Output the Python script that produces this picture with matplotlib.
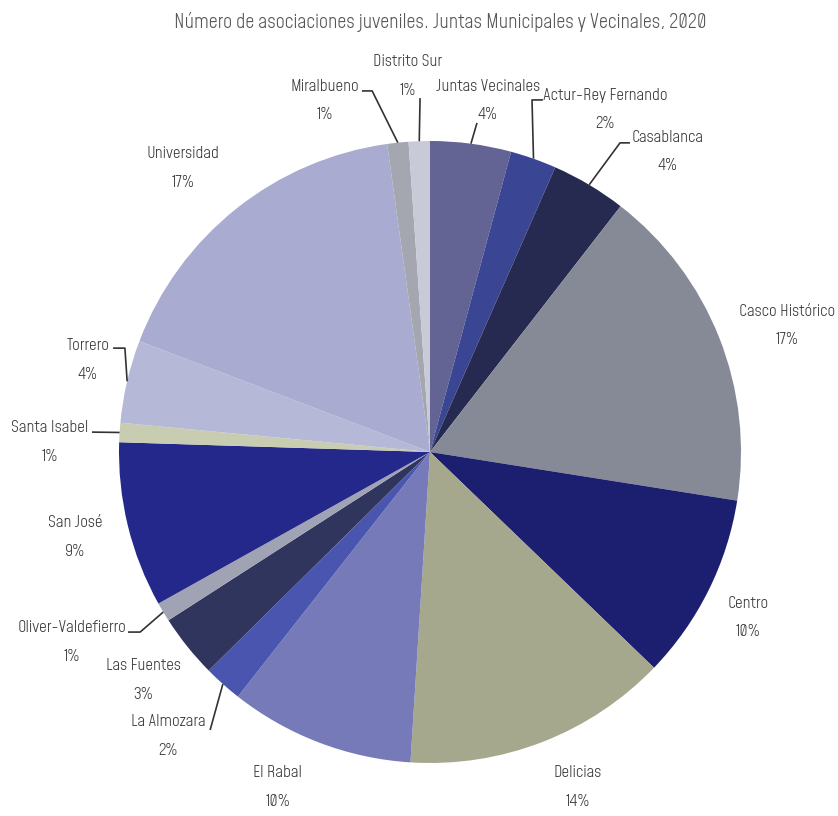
import matplotlib.pyplot as plt
import numpy as np

# Datos
distritos = ["Juntas Vecinales", "Actur-Rey Fernando", "Casablanca", "Casco Histórico",
             "Centro", "Delicias", "El Rabal", "La Almozara", "Las Fuentes",
             "Oliver-Valdefierro", "San José", "Santa Isabel", "Torrero",
             "Universidad", "Miralbueno", "Distrito Sur"]
porcentajes = [4.2, 2.4, 3.9, 17.0, 9.7, 13.8, 9.6, 2.0, 3.3, 1.0, 8.6, 1.0, 4.3, 17.0, 1.1, 1.1]

colores = ["#636394", "#3a4694", "#262a50", "#868a96", "#1c1f70", "#a5a88c", "#767ab8",
           "#4a55b0", "#30355e", "#a0a3b4", "#23288a", "#c8ccb0", "#b6b8d8", "#a9abd0",
           "#a4a6b0", "#c8cad8"]

# Posiciones de etiquetas (layout, en unidades del radio)
pos_etiquetas = [(0.186, 1.129), (0.563, 1.100), (0.765, 0.965), (1.148, 0.408),
                 (1.023, -0.531), (0.476, -1.077), (-0.489, -1.077), (-0.842, -0.913),
                 (-0.923, -0.733), (-1.151, -0.611), (-1.141, -0.273), (-1.222, 0.032),
                 (-1.100, 0.296), (-0.794, 0.913), (-0.338, 1.129), (-0.071, 1.209)]
# Puntos de codo de las líneas guía
codos = {
    "Juntas Vecinales": [(0.151, 1.058)],
    "Actur-Rey Fernando": [(0.328, 1.132), (0.363, 1.132)],
    "Casablanca": [(0.611, 0.994), (0.643, 0.994)],
    "La Almozara": [(-0.707, -0.894)],
    "Oliver-Valdefierro": [(-0.932, -0.579), (-0.971, -0.579)],
    "Santa Isabel": [(-1.087, 0.064)],
    "Torrero": [(-0.981, 0.334), (-1.019, 0.334)],
    "Miralbueno": [(-0.186, 1.161), (-0.219, 1.161)],
    "Distrito Sur": [(-0.032, 1.138)],
}

plt.rcParams['font.family'] = ['Mohave', 'DejaVu Sans']

fig = plt.figure(figsize=(8.38, 8.16), dpi=100)
ax = fig.add_axes([0, 0, 1, 1])

wedges, _ = ax.pie(porcentajes, colors=colores, startangle=90, counterclock=False,
                   radius=1.0, wedgeprops=dict(linewidth=0))

total = sum(porcentajes)
for w, nombre, pct, pos in zip(wedges, distritos, porcentajes, pos_etiquetas):
    ang = np.deg2rad((w.theta1 + w.theta2) / 2)
    ax.text(pos[0], pos[1], f"{nombre}\n{round(pct / total * 100):.0f}%",
            ha="center", va="center", fontsize=12, color="#3a3a3a", linespacing=2.1)
    if nombre in codos:
        xs = [np.cos(ang)] + [p[0] for p in codos[nombre]]
        ys = [np.sin(ang)] + [p[1] for p in codos[nombre]]
        ax.plot(xs, ys, color="#333333", lw=1.2, solid_capstyle="butt")

ax.set_xlim(-430 / 311, (838 - 430) / 311)
ax.set_ylim(-364 / 311, 452 / 311)
ax.set_aspect("equal")
ax.axis("off")

fig.text(440 / 838, 1 - 22 / 816,
         "Número de asociaciones juveniles. Juntas Municipales y Vecinales, 2020",
         ha="center", va="center", fontsize=14.2, color="#555555")

plt.savefig("out.png", dpi=100)
